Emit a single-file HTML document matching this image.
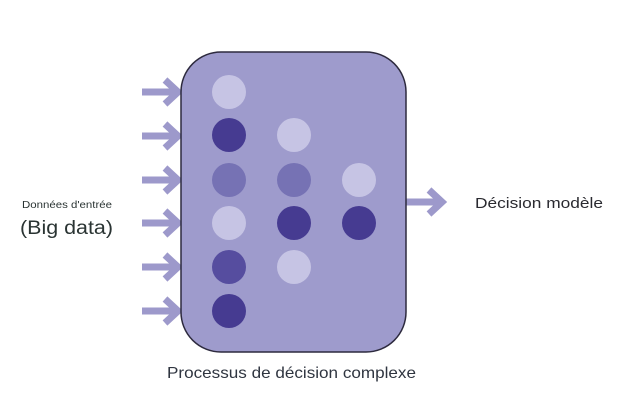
<!DOCTYPE html>
<html><head><style>html,body{margin:0;padding:0;background:#fff}svg{display:block}</style></head>
<body>
<svg width="631" height="416" viewBox="0 0 631 416" xmlns="http://www.w3.org/2000/svg" font-family="Liberation Sans, sans-serif">
<rect width="631" height="416" fill="#fff"/>
<g stroke="#9d99cb" stroke-width="7" fill="none" stroke-linejoin="miter">
  <g id="a">
    <line x1="142" y1="92" x2="176" y2="92"/>
    <polyline points="165,80 178,92 165,104"/>
  </g>
  <use href="#a" y="44"/>
  <use href="#a" y="88"/>
  <use href="#a" y="131"/>
  <use href="#a" y="175"/>
  <use href="#a" y="219"/>
  <line x1="406" y1="202" x2="440" y2="202"/>
  <polyline points="429,190 442,202 429,214"/>
</g>
<rect x="181" y="52" width="225" height="300" rx="40" fill="#9e9bcc" stroke="#2d2a3e" stroke-width="1.5"/>
<g>
  <circle cx="229" cy="92" r="17" fill="#c6c4e4"/>
  <circle cx="229" cy="135" r="17" fill="#463b91"/>
  <circle cx="229" cy="180" r="17" fill="#7672b4"/>
  <circle cx="229" cy="223" r="17" fill="#c6c4e4"/>
  <circle cx="229" cy="267" r="17" fill="#564d9f"/>
  <circle cx="229" cy="311" r="17" fill="#463b91"/>
  <circle cx="294" cy="135" r="17" fill="#c6c4e4"/>
  <circle cx="294" cy="180" r="17" fill="#7672b4"/>
  <circle cx="294" cy="223" r="17" fill="#463b91"/>
  <circle cx="294" cy="267" r="17" fill="#c6c4e4"/>
  <circle cx="359" cy="180" r="17" fill="#c6c4e4"/>
  <circle cx="359" cy="223" r="17" fill="#463b91"/>
</g>
<text x="22" y="208" font-size="10" fill="#2a3433" textLength="90" lengthAdjust="spacingAndGlyphs">Données d'entrée</text>
<text x="20" y="234" font-size="19" fill="#2a3433" textLength="93" lengthAdjust="spacingAndGlyphs">(Big data)</text>
<text x="475" y="208" font-size="15" fill="#2a2a30" textLength="128" lengthAdjust="spacingAndGlyphs">Décision modèle</text>
<text x="167" y="378" font-size="16" fill="#2f3540" textLength="249" lengthAdjust="spacingAndGlyphs">Processus de décision complexe</text>
</svg>
</body></html>
